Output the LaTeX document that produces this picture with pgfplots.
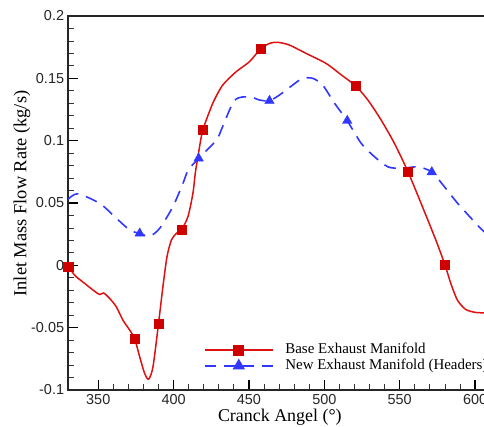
\documentclass[border=0pt]{standalone}
\usepackage{pgfplots}
\pgfplotsset{compat=1.18}
\usepackage{fontspec}
\setmainfont{Liberation Serif}
\setsansfont{Liberation Sans}
\definecolor{cred}{RGB}{222,16,16}
\definecolor{cmred}{RGB}{206,0,0}
\definecolor{cblue}{RGB}{48,56,255}
\begin{document}
\begin{tikzpicture}
\path[use as bounding box, clip] (0,0) rectangle (484bp,427bp);
\begin{axis}[
  at={(68.1bp,37bp)}, anchor=south west,
  scale only axis, width=417.5bp, height=374bp,
  xmin=330, xmax=607, ymin=-0.1, ymax=0.2,
  xtick={350,400,450,500,550,600},
  xticklabels={350,400,450,500,550,600},
  ytick={-0.1,-0.05,0,0.05,0.1,0.15,0.2},
  yticklabels={-0.1,-0.05,0,0.05,0.1,0.15,0.2},
  minor tick num=4,
  tick pos=left, tick align=inside,
  major tick length=9.5bp, minor tick length=5.5bp,
  every major tick/.append style={line width=1.3bp, black},
  every minor tick/.append style={line width=0.8bp, black!80},
  axis line style={line width=1.3bp, black!85},
  tick label style={font=\fontsize{14.5}{15}\sffamily, black!85},
  xticklabel style={yshift=-0.5bp},
  yticklabel style={xshift=-0.5bp},
  xlabel={Cranck Angel (°)},
  ylabel={Inlet Mass Flow Rate (kg/s)},
  xlabel style={font=\fontsize{18}{18}\selectfont, at={([xshift=3bp,yshift=-31bp]axis description cs:0.5,0)}, anchor=base},
  ylabel style={font=\fontsize{18.5}{18.5}\selectfont, at={([xshift=-41.6bp,yshift=9.5bp]axis description cs:0,0.5)}, anchor=base},
  legend image code/.code={\draw[mark repeat=2,mark phase=2,#1] plot coordinates {(0bp,0bp) (33.8bp,0bp) (67.6bp,0bp)};},
  legend style={draw=none, fill=none, inner sep=0pt, at={(rel axis cs:0.3255,0.0856)}, anchor=west,
    font=\fontsize{15}{15}\selectfont, column sep=12bp, row sep=2bp,
    nodes={inner sep=0pt, text height=10.5bp, text depth=3bp}},
  legend cell align=left,
]
\addplot[cred, line width=1.5bp, smooth, tension=0.45, forget plot] table {
330 0.000
334.4 -0.008
341 -0.0145
346.7 -0.020
351 -0.0234
353.6 -0.0222
357.6 -0.0266
362 -0.0333
366.4 -0.044
370.9 -0.052
374.2 -0.059
377.5 -0.0734
380.8 -0.0868
383.4 -0.0913
386.3 -0.0815
390 -0.0466
392.9 -0.0172
395.6 0.0068
398.5 0.0202
401.8 0.0256
405.3 0.0288
409.5 0.039
412.8 0.0577
414.5 0.075
416.8 0.092
419.4 0.1085
426 0.130
432.6 0.1446
441.5 0.1553
450.3 0.1633
457.6 0.1735
463.6 0.178
469.1 0.1789
476.8 0.1767
487.9 0.170
501.1 0.162
511.3 0.1527
520.7 0.144
528.9 0.1326
537.7 0.1165
546.5 0.0978
555.4 0.0753
565.1 0.047
574 0.0202
580.1 0.0002
583.9 -0.0145
588.3 -0.0279
593.8 -0.0354
600.5 -0.0378
607 -0.0381
};
\addplot[only marks, mark=square*, mark size=4.6bp, mark options={fill=cmred, draw=cmred}, forget plot] table {
330 -0.001
374.2 -0.059
390 -0.0466
405.3 0.0288
419.4 0.1085
457.6 0.1735
520.7 0.144
555.4 0.0753
580.1 0.0002
};
\addplot[cblue, line width=1.6bp, smooth, tension=0.45, dash pattern=on 12bp off 8bp, forget plot] table {
330 0.053
336.4 0.0574
351 0.0497
360.9 0.039
370.9 0.0283
377.5 0.0256
384.1 0.0234
390.7 0.0296
399.5 0.047
406.2 0.0657
409.7 0.0764
416.6 0.0858
428.4 0.1005
432.6 0.1115
440.6 0.1326
450.3 0.1352
457 0.1326
463.6 0.132
470.2 0.1366
479 0.1446
485.6 0.150
492.3 0.150
498.9 0.1446
506.8 0.130
515.2 0.116
524.5 0.0978
533.3 0.0871
542.2 0.079
551.1 0.0778
562.2 0.079
571.3 0.0748
579.7 0.063
588.5 0.0497
602.6 0.031
607 0.026
};
\addplot[only marks, mark=triangle*, mark size=5.5bp, mark options={fill=cblue, draw=cblue}, forget plot] table {
377.5 0.0256
416.6 0.0858
463.6 0.132
515.2 0.116
571.3 0.0748
};
\addlegendimage{cred, line width=1.5bp, mark=square*, mark size=4.6bp, mark options={fill=cmred, draw=cmred}}
\addlegendentry{Base Exhaust Manifold}
\addlegendimage{cblue, line width=1.6bp, dash pattern=on 11bp off 8bp, mark=triangle*, mark size=5.5bp, mark options={fill=cblue, draw=cblue, solid}}
\addlegendentry{New Exhaust Manifold (Headers)}
\end{axis}
\end{tikzpicture}
\end{document}
